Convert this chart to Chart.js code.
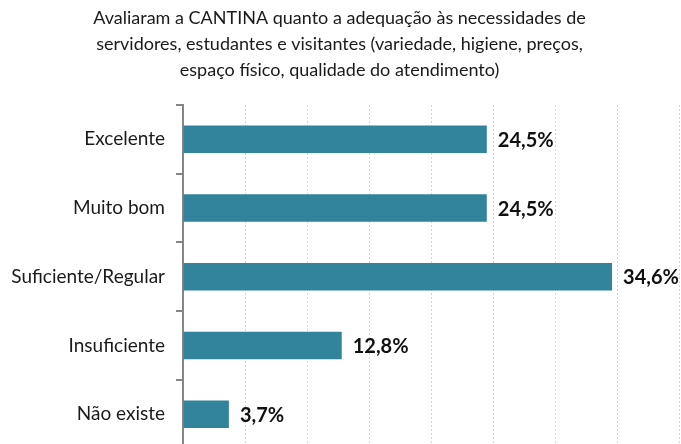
<!DOCTYPE html>
<html lang="pt">
<head>
<meta charset="UTF-8">
<title>Cantina</title>
<script src="https://cdn.jsdelivr.net/npm/chart.js@4.4.0/dist/chart.umd.min.js"></script>
<style>
  html, body { margin: 0; padding: 0; background: #fff; overflow: hidden; }
  #wrap { width: 681px; height: 444px; overflow: hidden; }
</style>
</head>
<body>
<div id="wrap">
  <canvas id="chart" width="681" height="471"></canvas>
</div>
<script>
  const categorias = ['Excelente', 'Muito bom', 'Suficiente/Regular', 'Insuficiente', 'Não existe'];
  const percentuais = [24.5, 24.5, 34.6, 12.8, 3.7];
  const titulo = [
    'Avaliaram a CANTINA quanto a adequação às necessidades de',
    'servidores, estudantes e visitantes (variedade, higiene, preços,',
    'espaço físico, qualidade do atendimento)'
  ];

  const fonte = 'Lato, "Open Sans", sans-serif';

  // escreve o valor na ponta de cada barra
  const rotulos = {
    id: 'rotulos',
    afterDatasetsDraw(chart) {
      const ctx = chart.ctx;
      const meta = chart.getDatasetMeta(0);
      ctx.save();
      ctx.font = 'bold 20px ' + fonte;
      ctx.fillStyle = '#111';
      ctx.textBaseline = 'middle';
      ctx.textAlign = 'left';
      meta.data.forEach((bar, i) => {
        const txt = percentuais[i].toFixed(1).replace('.', ',') + '%';
        ctx.fillText(txt, bar.x + 11, bar.y + 1);
      });
      ctx.restore();
    }
  };

  new Chart(document.getElementById('chart'), {
    type: 'bar',
    data: {
      labels: categorias,
      datasets: [{
        data: percentuais,
        backgroundColor: '#31849B',
        barPercentage: 0.4,
        categoryPercentage: 1
      }]
    },
    options: {
      indexAxis: 'y',
      responsive: false,
      animation: false,
      layout: { padding: { left: 0, right: 2, top: 5, bottom: 0 } },
      plugins: {
        legend: { display: false },
        tooltip: { enabled: false },
        title: {
          display: true,
          text: titulo,
          color: '#1a1a1a',
          font: { family: fonte, size: 18, weight: 'normal', lineHeight: 1.444 },
          padding: { top: 0, bottom: 22 }
        }
      },
      scales: {
        x: {
          min: 0,
          max: 40,
          afterFit(s) { s.height = 0; },
          ticks: { display: false, stepSize: 5 },
          border: { display: false, dash: [2, 2] },
          grid: {
            color: '#d4d4d4',
            lineWidth: 1,
            drawTicks: false
          }
        },
        y: {
          afterFit(s) { s.width = 183; },
          border: { display: true, color: '#868686', width: 2 },
          grid: {
            offset: true,
            drawOnChartArea: false,
            drawTicks: true,
            tickLength: 7,
            color: '#868686',
            lineWidth: 2
          },
          ticks: {
            color: '#1a1a1a',
            padding: 11,
            font: { family: fonte, size: 19 }
          }
        }
      }
    },
    plugins: [rotulos]
  });
</script>
</body>
</html>
